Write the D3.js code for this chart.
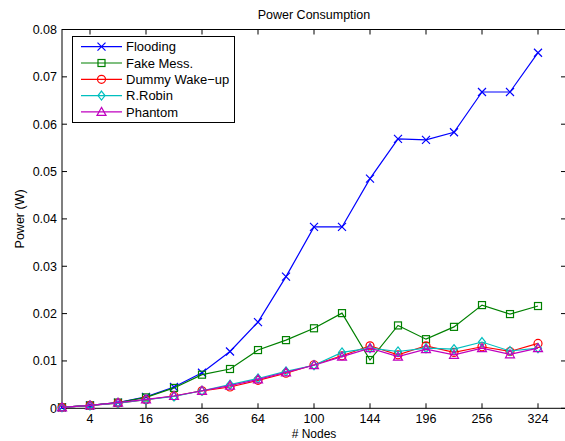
<!DOCTYPE html>
<html>
<head>
<meta charset="utf-8">
<script src="https://cdn.jsdelivr.net/npm/d3@7"></script>
<style>
body { margin: 0; background: #fff; }
text { font-family: "Liberation Sans", Arial, sans-serif; }
</style>
</head>
<body>
<script>
const SvgWidth = 565, SvgHeight = 441;

// data
var nodes = [1, 4, 9, 16, 25, 36, 49, 64, 81, 100, 121, 144, 169, 196, 225, 256, 289, 324];
var flooding = [0.0002, 0.0006, 0.0012, 0.0024, 0.0045, 0.0075, 0.0120, 0.0182, 0.0278, 0.0383, 0.0383, 0.0485, 0.0569, 0.0567, 0.0583, 0.0668, 0.0668, 0.0751];
var fakeMess = [0.0002, 0.0006, 0.0012, 0.0023, 0.0043, 0.0071, 0.0083, 0.0123, 0.0144, 0.0169, 0.0201, 0.0102, 0.0175, 0.0146, 0.0172, 0.0218, 0.0199, 0.0216];
var dummyWake = [0.0002, 0.0006, 0.0011, 0.0018, 0.0026, 0.0037, 0.0045, 0.0059, 0.0074, 0.0092, 0.0111, 0.0132, 0.0113, 0.0132, 0.0118, 0.0130, 0.0120, 0.0137];
var rRobin = [0.0002, 0.0006, 0.0011, 0.0018, 0.0025, 0.0037, 0.0050, 0.0063, 0.0078, 0.0091, 0.0118, 0.0127, 0.0120, 0.0127, 0.0125, 0.0140, 0.0121, 0.0127];
var phantom = [0.0002, 0.0006, 0.0012, 0.0019, 0.0026, 0.0037, 0.0048, 0.0061, 0.0076, 0.0091, 0.0109, 0.0127, 0.0109, 0.0125, 0.0113, 0.0127, 0.0114, 0.0127];
var seriesNames = ["Flooding", "Fake Mess.", "Dummy Wake\u2212up", "R.Robin", "Phantom"];
var xTicks = [4, 16, 36, 64, 100, 144, 196, 256, 324];
var yTicks = [0, 0.01, 0.02, 0.03, 0.04, 0.05, 0.06, 0.07, 0.08];

var series = [
  {name: seriesNames[0], values: flooding, color: "#0000ff", marker: "x"},
  {name: seriesNames[1], values: fakeMess, color: "#008000", marker: "square"},
  {name: seriesNames[2], values: dummyWake, color: "#ff0000", marker: "circle"},
  {name: seriesNames[3], values: rRobin, color: "#00bfbf", marker: "diamond"},
  {name: seriesNames[4], values: phantom, color: "#bf00bf", marker: "triangle"}
];

var plot = {left: 62, right: 566, top: 29.5, bottom: 408.3};

var svg = d3.select('body')
  .append('svg')
  .attr('width', SvgWidth)
  .attr('height', SvgHeight)
  .style('background-color', 'white');

// x axis is linear in sqrt(nodes)
var x = d3.scaleSqrt().domain([1, 361]).range([plot.left, plot.right]);
var y = d3.scaleLinear().domain([0, 0.08]).range([plot.bottom, plot.top]);

var tickLen = 5;
var axes = svg.append('g').attr('stroke', '#000').attr('stroke-width', 1).attr('fill', 'none');
axes.append('rect')
  .attr('x', plot.left).attr('y', plot.top)
  .attr('width', plot.right - plot.left).attr('height', plot.bottom - plot.top);

xTicks.forEach(function(t) {
  axes.append('line').attr('x1', x(t)).attr('x2', x(t)).attr('y1', plot.bottom).attr('y2', plot.bottom - tickLen);
  axes.append('line').attr('x1', x(t)).attr('x2', x(t)).attr('y1', plot.top).attr('y2', plot.top + tickLen);
});
yTicks.forEach(function(t) {
  axes.append('line').attr('y1', y(t)).attr('y2', y(t)).attr('x1', plot.left).attr('x2', plot.left + tickLen);
  axes.append('line').attr('y1', y(t)).attr('y2', y(t)).attr('x1', plot.right).attr('x2', plot.right - tickLen);
});

svg.selectAll('.xlab')
  .data(xTicks)
  .enter().append('text')
  .attr('x', function(d) { return x(d); })
  .attr('y', plot.bottom + 15)
  .attr('text-anchor', 'middle')
  .attr('font-size', 12.5)
  .text(function(d) { return d; });

svg.selectAll('.ylab')
  .data(yTicks)
  .enter().append('text')
  .attr('x', plot.left - 5)
  .attr('y', function(d) { return y(d) + 4.5; })
  .attr('text-anchor', 'end')
  .attr('font-size', 12.5)
  .text(function(d) { return d === 0 ? "0" : d3.format(".2f")(d); });

svg.append('text')
  .attr('x', (plot.left + plot.right) / 2)
  .attr('y', 19)
  .attr('text-anchor', 'middle')
  .attr('font-size', 12.5)
  .text('Power Consumption');

svg.append('text')
  .attr('x', (plot.left + plot.right) / 2)
  .attr('y', 438)
  .attr('text-anchor', 'middle')
  .attr('font-size', 12)
  .text('# Nodes');

svg.append('text')
  .attr('transform', 'translate(24,' + ((plot.top + plot.bottom) / 2) + ') rotate(-90)')
  .attr('text-anchor', 'middle')
  .attr('font-size', 12.5)
  .text('Power (W)');

function drawMarker(g, type, cx, cy, color) {
  if (type === "x") {
    var s = 4;
    g.append('path')
      .attr('d', 'M' + (cx - s) + ',' + (cy - s) + 'L' + (cx + s) + ',' + (cy + s) + 'M' + (cx - s) + ',' + (cy + s) + 'L' + (cx + s) + ',' + (cy - s))
      .attr('stroke', color).attr('stroke-width', 1.2).attr('fill', 'none');
  } else if (type === "square") {
    g.append('rect')
      .attr('x', cx - 3.5).attr('y', cy - 3.5).attr('width', 7).attr('height', 7)
      .attr('stroke', color).attr('stroke-width', 1.2).attr('fill', 'none');
  } else if (type === "circle") {
    g.append('circle')
      .attr('cx', cx).attr('cy', cy).attr('r', 4)
      .attr('stroke', color).attr('stroke-width', 1.2).attr('fill', 'none');
  } else if (type === "diamond") {
    g.append('path')
      .attr('d', 'M' + cx + ',' + (cy - 4.5) + 'L' + (cx + 3.5) + ',' + cy + 'L' + cx + ',' + (cy + 4.5) + 'L' + (cx - 3.5) + ',' + cy + 'Z')
      .attr('stroke', color).attr('stroke-width', 1.2).attr('fill', 'none');
  } else if (type === "triangle") {
    g.append('path')
      .attr('d', 'M' + cx + ',' + (cy - 4.5) + 'L' + (cx + 4.5) + ',' + (cy + 3.5) + 'L' + (cx - 4.5) + ',' + (cy + 3.5) + 'Z')
      .attr('stroke', color).attr('stroke-width', 1.2).attr('fill', 'none');
  }
}

var line = d3.line()
  .x(function(d, i) { return x(nodes[i]); })
  .y(function(d) { return y(d); });

series.forEach(function(s) {
  var g = svg.append('g');
  g.append('path')
    .datum(s.values)
    .attr('fill', 'none')
    .attr('stroke', s.color)
    .attr('stroke-width', 1.2)
    .attr('d', line);
  s.values.forEach(function(v, i) {
    drawMarker(g, s.marker, x(nodes[i]), y(v), s.color);
  });
});

// legend
var lg = svg.append('g');
lg.append('rect')
  .attr('x', 72.5).attr('y', 36.5).attr('width', 162).attr('height', 86)
  .attr('fill', 'white').attr('stroke', '#000').attr('stroke-width', 1);
series.forEach(function(s, i) {
  var ry = 46.7 + i * 16.3;
  lg.append('line')
    .attr('x1', 81).attr('x2', 122).attr('y1', ry).attr('y2', ry)
    .attr('stroke', s.color).attr('stroke-width', 1.2);
  drawMarker(lg, s.marker, 101.5, ry, s.color);
  lg.append('text')
    .attr('x', 126).attr('y', ry + 4.7)
    .attr('font-size', 13)
    .text(s.name);
});
</script>
</body>
</html>
